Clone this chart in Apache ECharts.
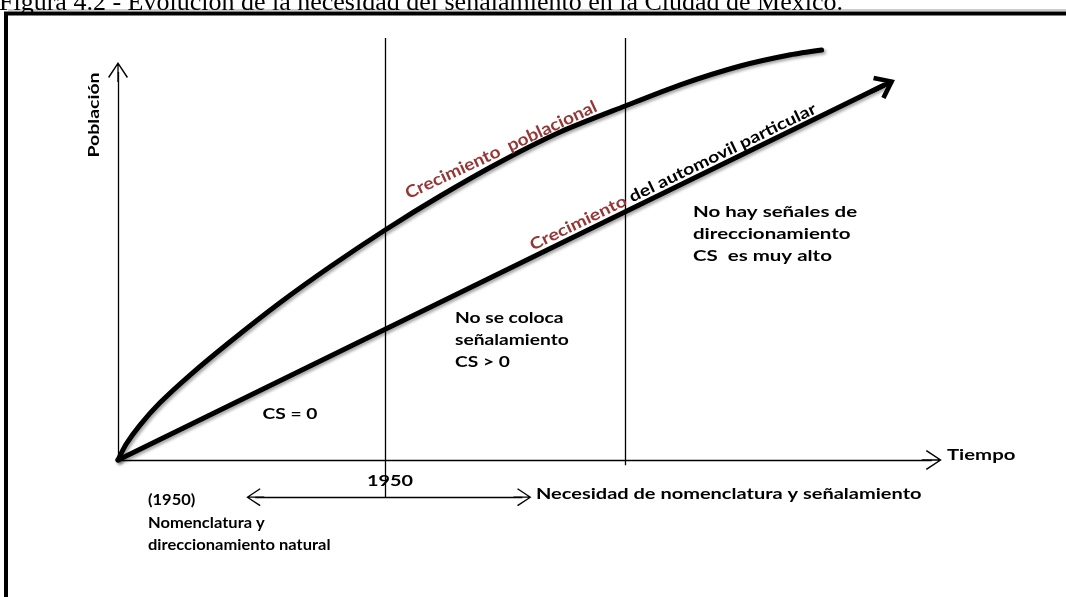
<!DOCTYPE html>
<html lang="es">
<head>
<meta charset="UTF-8">
<title>Evolución de la necesidad del señalamiento</title>
<script src="https://cdn.jsdelivr.net/npm/echarts@6/dist/echarts.min.js"></script>
<style>
    html, body { margin: 0; padding: 0; background: #fff; }
    #main { width: 1066px; height: 597px; }
</style>
</head>
<body>
<div id="main"></div>
<script>
    // curva de crecimiento poblacional (unidades arbitrarias)
    var tiempo = [0, 1, 2.7, 5.1, 8.8, 13.6, 19.7, 25.8, 32.5, 39.2, 46.5, 53.8, 61.7, 68.4, 75.7, 81.8, 85.6];
    var poblacion = [0, 4, 8.8, 14.3, 21.3, 29.5, 39.3, 48.3, 57.5, 66, 74.5, 82, 88.5, 93.8, 98.5, 101.3, 102.5];

    // recta del automovil particular
    var autoTiempo = [0, 93.1];
    var autoValor = [0, 93.6];

    // lineas verticales (1950 y la otra)
    var cortes = [32.5, 61.7];
    var cortesBase = [-9.3, -1.3];
    var corteTope = 105.5;

    // ejes y flecha doble bajo el eje
    var ejeXFin = 99.0;
    var ejeYFin = 97.0;
    var flechaDoble = [16.7, 49.2];
    var flechaDobleY = -9.3;

    var ROJO = '#953735';
    var FUENTE = 'Lato';
    // chevrones abiertos (apuntan hacia arriba, se giran con la linea)
    var V_FINO = 'path://M0,15L10,0L20,15L18.8,15.9L10,2.4L1.2,15.9Z M9.35,1L10.65,1L10.65,20L9.35,20Z';
    var V_GRUESO = 'path://M10,0L20,13L17.2,15.2L10,5.8L2.8,15.2L0,13Z M8.2,2L11.8,2L11.8,20L8.2,20Z';

    var sombra = {
        shadowColor: 'rgba(0,0,0,0.35)',
        shadowBlur: 3,
        shadowOffsetX: 2,
        shadowOffsetY: 2
    };

    function tramo(a, b, extra) {
        var p = {coord: a, symbol: 'none'};
        var q = {coord: b, symbol: 'none'};
        if (extra) { Object.assign(q, extra); }
        return [p, q];
    }

    var lineas = [
        tramo([0, 0], [0, ejeYFin], {symbol: V_FINO, symbolSize: 20}),
        tramo([0, 0], [ejeXFin, 0], {symbol: V_FINO, symbolSize: 20}),
        tramo([cortes[0], cortesBase[0]], [cortes[0], corteTope]),
        tramo([cortes[1], cortesBase[1]], [cortes[1], corteTope]),
        [
            {coord: [flechaDoble[0], flechaDobleY], symbol: V_FINO, symbolSize: 18},
            {coord: [flechaDoble[1], flechaDobleY], symbol: V_FINO, symbolSize: 18}
        ]
    ];

    // texto en negrita, estirado a lo ancho como en el original
    function texto(x, y, str, o) {
        o = o || {};
        return {
            type: 'text', x: x, y: y, rotation: o.rot || 0, z: 10,
            scaleX: o.sx || 1,
            style: {
                text: str,
                fill: o.color || '#000',
                font: 'bold ' + (o.size || 16) + 'px ' + FUENTE,
                align: o.align || 'left',
                verticalAlign: o.va || 'middle',
                lineHeight: o.lh || 22,
                rich: o.rich
            }
        };
    }

    var myChart = echarts.init(document.getElementById('main'));
    var option = {
        animation: false,
        backgroundColor: '#fff',
        grid: {left: 35.8, right: 43.8, top: 0, bottom: 77},
        xAxis: {type: 'value', min: -10, max: 110, show: false},
        yAxis: {type: 'value', min: -15, max: 115, show: false},
        series: [
            {
                name: 'Crecimiento poblacional',
                type: 'line',
                data: tiempo.map(function (t, i) { return [t, poblacion[i]]; }),
                smooth: 0.25,
                symbol: 'none',
                clip: false,
                z: 3,
                lineStyle: Object.assign({color: '#000', width: 5, cap: 'round'}, sombra),
                markLine: {
                    silent: true,
                    symbol: 'none',
                    label: {show: false},
                    lineStyle: {color: '#000', width: 1.3, type: 'solid'},
                    data: lineas
                }
            },
            {
                name: 'Crecimiento del automovil particular',
                type: 'lines',
                coordinateSystem: 'cartesian2d',
                z: 3,
                symbol: ['none', V_GRUESO],
                symbolSize: 26,
                lineStyle: Object.assign({color: '#000', width: 5, opacity: 1, curveness: 0, cap: 'round'}, sombra),
                data: [{coords: autoTiempo.map(function (t, i) { return [t, autoValor[i]]; })}]
            }
        ],
        graphic: [
            {
                type: 'text', x: -1, y: 3, z: 10,
                style: {
                    text: 'Figura 4.2 - Evolución de la necesidad del señalamiento en la Ciudad de México.',
                    font: '26px "Liberation Serif"', fill: '#000', verticalAlign: 'middle'
                }
            },
            {type: 'line', z: 9, shape: {x1: 8, y1: 10, x2: 1066, y2: 10}, style: {stroke: '#999', lineWidth: 1}},
            {type: 'rect', z: 9, shape: {x: 6, y: 13.5, width: 1100, height: 700}, style: {fill: 'none', stroke: '#000', lineWidth: 4}},
            texto(94, 115, 'Población', {align: 'center', rot: Math.PI / 2, size: 15, sx: 1.3}),
            texto(290, 414, 'CS = 0', {align: 'center', sx: 1.2}),
            texto(455, 307, 'No se coloca\nseñalamiento\nCS > 0', {va: 'top', sx: 1.2}),
            texto(693, 201, 'No hay señales de\ndireccionamiento\nCS  es muy alto', {va: 'top', sx: 1.28}),
            texto(947, 455, 'Tiempo', {sx: 1.27}),
            texto(390, 481, '1950', {align: 'center', sx: 1.24}),
            texto(148, 489, '(1950)\nNomenclatura y\ndireccionamiento natural', {va: 'top', size: 15, lh: 22.5, sx: 1.1}),
            texto(536, 494, 'Necesidad de nomenclatura y señalamiento', {sx: 1.25}),
            texto(501, 150, 'Crecimiento  poblacional', {align: 'center', rot: 25 * Math.PI / 180, size: 17, sx: 1.12, color: ROJO}),
            texto(673, 177, '{r|Crecimiento} del automovil particular', {
                align: 'center', rot: 25.9 * Math.PI / 180, sx: 1.22,
                rich: {r: {fill: ROJO, font: 'bold 16px ' + FUENTE}}
            })
        ]
    };
    myChart.setOption(option);
</script>
</body>
</html>
